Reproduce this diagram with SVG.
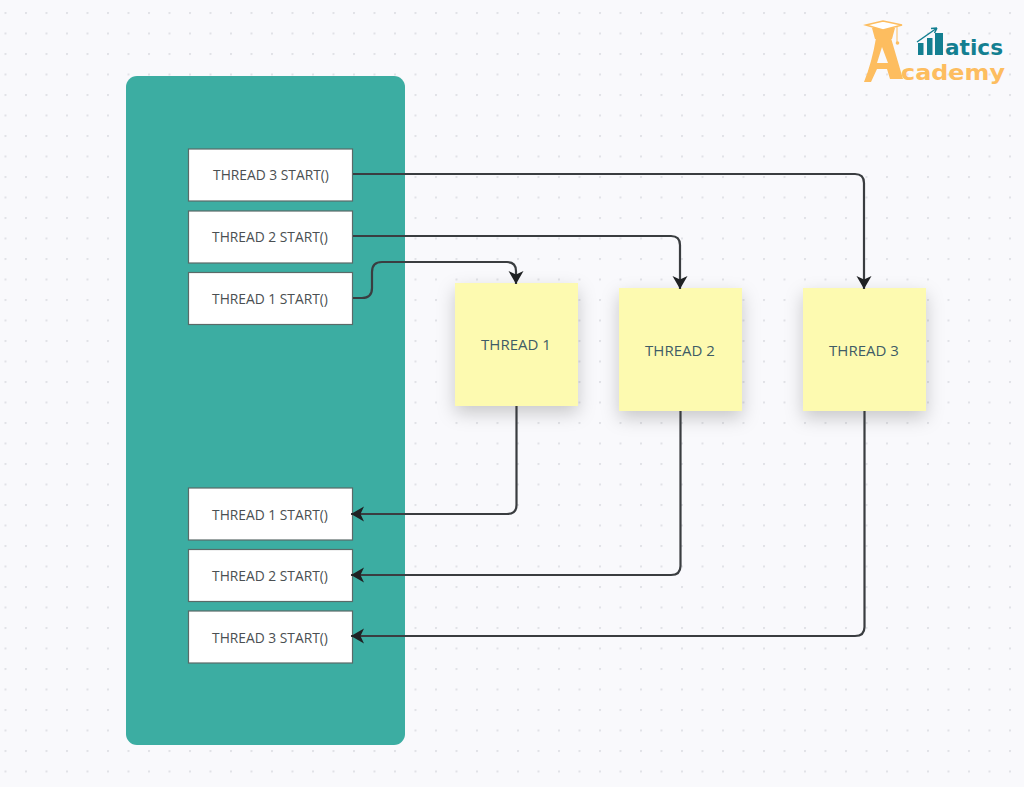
<svg xmlns="http://www.w3.org/2000/svg" width="1024" height="787" viewBox="0 0 1024 787">
<style>
.b{fill:#fff;stroke:#5a6a68;stroke-width:1.2}
.bt{font:13.800px "Open Sans","Noto Sans",sans-serif;fill:#4a4f52;text-anchor:middle;dominant-baseline:central}
.s{fill:#fdfab0;filter:url(#sh)}
.st{font:15px "Open Sans","Noto Sans",sans-serif;fill:#3f5c66;text-anchor:middle;dominant-baseline:central}
.c{fill:none;stroke:#3a3d40;stroke-width:2.2;marker-end:url(#ah)}
</style>
<defs>
<pattern id="dots" x="4.5" y="12" width="20.5" height="20.5" patternUnits="userSpaceOnUse"><circle cx="1" cy="1" r="1.100" fill="#dfe0e5"/></pattern>
<marker id="ah" markerUnits="userSpaceOnUse" markerWidth="16" markerHeight="18" refX="13" refY="8" orient="auto"><path d="M0 0.500L13 8L0 15.500L3.500 8Z" fill="#1f2123"/></marker>
<filter id="sh" x="-30%" y="-30%" width="160%" height="170%"><feDropShadow dx="0" dy="7" stdDeviation="9" flood-color="#000" flood-opacity="0.2"/></filter>
</defs>
<rect width="1024" height="787" fill="#f9f9fc"/>
<rect width="1024" height="787" fill="url(#dots)"/>
<rect id="panel" x="126" y="76" width="279" height="669" rx="11" fill="#3cada2"/>
<g id="start3"><rect class="b" x="188.500" y="149" width="164" height="52"/><text class="bt" x="271" y="174">THREAD 3 START()</text></g>
<g id="start2"><rect class="b" x="188.500" y="211" width="164" height="52"/><text class="bt" x="270" y="236.500">THREAD 2 START()</text></g>
<g id="start1"><rect class="b" x="188.500" y="272.500" width="164" height="52"/><text class="bt" x="270" y="298">THREAD 1 START()</text></g>
<g id="end1"><rect class="b" x="188.500" y="488" width="164" height="52"/><text class="bt" x="270" y="514">THREAD 1 START()</text></g>
<g id="end2"><rect class="b" x="188.500" y="549.500" width="164" height="52"/><text class="bt" x="270" y="575">THREAD 2 START()</text></g>
<g id="end3"><rect class="b" x="188.500" y="611" width="164" height="52"/><text class="bt" x="270" y="637">THREAD 3 START()</text></g>
<g id="thread1"><rect class="s" x="455" y="283" width="123" height="123"/><text class="st" x="516" y="343.500">THREAD 1</text></g>
<g id="thread2"><rect class="s" x="619" y="288" width="123" height="123"/><text class="st" x="680" y="349.500">THREAD 2</text></g>
<g id="thread3"><rect class="s" x="803" y="288" width="123" height="123"/><text class="st" x="864" y="349.500">THREAD 3</text></g>
<g id="connectors">
<path class="c" d="M353 174H855Q864 174 864 183V289"/>
<path class="c" d="M353 236H671Q680 236 680 245V289"/>
<path class="c" d="M353 298H362Q372 298 372 288V272Q372 262 382 262H507Q516 262 516 271V284"/>
<path class="c" d="M516.500 406V505Q516.500 514 507 514H351"/>
<path class="c" d="M680.500 411V566Q680.500 575 671 575H351"/>
<path class="c" d="M864.500 411V627Q864.500 636 855 636H351"/>
</g>
<g id="logo">
<path d="M872 28H895L892 39H875Z" fill="#fdbd5f"/>
<path d="M866 25L883 21L902 25L883 30Z" fill="#fff" stroke="#fdbd5f" stroke-width="1.500"/>
<path d="M897 26V43" stroke="#fdbd5f" stroke-width="1" fill="none"/><circle cx="897.500" cy="43" r="1.800" fill="#fdbd5f"/>
<path fill-rule="evenodd" d="M876 38H891L903 79H890L887 69H877L871 82H864Q872 62 876 38ZM882 47L877 63H888Z" fill="#fdbd5f"/>
<path d="M917 42L937 28M937 28L931 28.500M937 28L934.500 33" stroke="#137f91" stroke-width="1.500" fill="none"/>
<g fill="#137f91"><rect x="918" y="43" width="5.500" height="12"/><rect x="927" y="38" width="5.500" height="17"/><rect x="935" y="33" width="8" height="22"/></g>
<text x="945" y="55" font-family="'DejaVu Sans',sans-serif" font-weight="700" font-size="21" fill="#137f91" textLength="58" lengthAdjust="spacingAndGlyphs">atics</text>
<text x="901" y="80" font-family="'DejaVu Sans',sans-serif" font-weight="700" font-size="21" fill="#fdbd5f" textLength="104" lengthAdjust="spacingAndGlyphs">cademy</text>
</g>
</svg>
